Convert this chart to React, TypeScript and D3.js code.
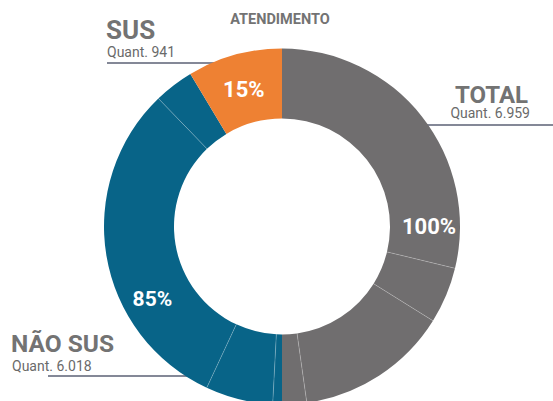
import React from "react";
import * as d3 from "d3";

const groups = ["TOTAL", "NÃO SUS", "SUS"];
const groupTitles = ["TOTAL", "NÃO SUS", "SUS"];
const groupQuant = ["6.959", "6.018", "941"];
const groupPercent = ["100%", "85%", "15%"];
const groupColors = ["#706e6f", "#086488", "#ee8133"];

// sub-segments in drawing order, clockwise from top
const segGroup = ["TOTAL", "TOTAL", "TOTAL", "TOTAL", "NÃO SUS", "NÃO SUS", "NÃO SUS", "NÃO SUS", "SUS"];
const segValue = [4005, 711, 1933, 310, 116, 851, 4291, 503, 1198];

const W = 553;
const H = 401;
const cx = 282;
const cy = 226.5;
const R = 178;
const r = 108;

export default function App() {
  const data = segValue.map((v, i) => ({ value: v, group: segGroup[i] }));
  const pie = d3.pie<any>().sort(null).value((d) => d.value).startAngle(0).endAngle(2 * Math.PI);
  const arcs = pie(data);
  const arc = d3.arc<any>().innerRadius(r).outerRadius(R);
  const color = d3.scaleOrdinal<string, string>().domain(groups).range(groupColors);

  const ext = groups.map((g) => {
    const a = arcs.filter((d) => d.data.group === g);
    return { start: d3.min(a, (d) => d.startAngle)!, end: d3.max(a, (d) => d.endAngle)! };
  });
  const labelFrac = [0.5, 0.41, 0.5];
  const labelRad = [147, 148, 143];
  const labelSize = [22, 21, 22];

  const pt = (ang: number, rad: number) => [cx + rad * Math.sin(ang), cy - rad * Math.cos(ang)];

  const seps: number[] = [];
  for (let i = 1; i < arcs.length; i++) {
    if (arcs[i].data.group === arcs[i - 1].data.group) seps.push(arcs[i].startAngle);
  }

  const font = "Roboto, 'Noto Sans', sans-serif";
  const lineColor = "#5b6074";
  const headColor = "#737373";
  const subColor = "#6a6a6a";

  return (
    <svg width={W} height={H} style={{ position: "absolute", left: 0, top: 0, background: "#fff" }} fontFamily={font}>
      <line x1={107} x2={215} y1={63} y2={63} stroke={lineColor} strokeWidth={1.3} />
      <line x1={423} x2={553} y1={125} y2={125} stroke={lineColor} strokeWidth={1.3} />
      <line x1={48} x2={195} y1={376} y2={376} stroke={lineColor} strokeWidth={1.3} />

      <g transform={`translate(${cx},${cy})`}>
        {arcs.map((d, i) => (
          <path key={i} d={arc(d) as string} fill={color(d.data.group)} />
        ))}
      </g>
      {seps.map((a, i) => {
        const [x1, y1] = pt(a, r);
        const [x2, y2] = pt(a, R);
        return <line key={i} x1={x1} y1={y1} x2={x2} y2={y2} stroke="#ffffff" strokeOpacity={0.35} strokeWidth={0.7} />;
      })}

      {groups.map((g, i) => {
        const a = ext[i].start + labelFrac[i] * (ext[i].end - ext[i].start);
        const [x, y] = pt(a, labelRad[i]);
        return (
          <text key={g} x={x} y={y + labelSize[i] * 0.36} textAnchor="middle" fill="#fff" fontWeight="bold" fontSize={labelSize[i]}>
            {groupPercent[i]}
          </text>
        );
      })}

      <text x={280} y={24} textAnchor="middle" fontWeight="bold" fontSize={14.5} fill={headColor}>ATENDIMENTO</text>

      <text x={106} y={39} fontWeight="bold" fontSize={26} fill={headColor}>{groupTitles[2]}</text>
      <text x={107} y={57} fontSize={14} fill={subColor}>Quant. {groupQuant[2]}</text>

      <text x={528} y={103} textAnchor="end" fontWeight="bold" fontSize={24} fill={headColor}>{groupTitles[0]}</text>
      <text x={530} y={118} textAnchor="end" fontSize={14} fill={subColor}>Quant. {groupQuant[0]}</text>

      <text x={11} y={352} fontWeight="bold" fontSize={24.5} fill={headColor}>{groupTitles[1]}</text>
      <text x={12} y={371} fontSize={14} fill={subColor}>Quant. {groupQuant[1]}</text>
    </svg>
  );
}
